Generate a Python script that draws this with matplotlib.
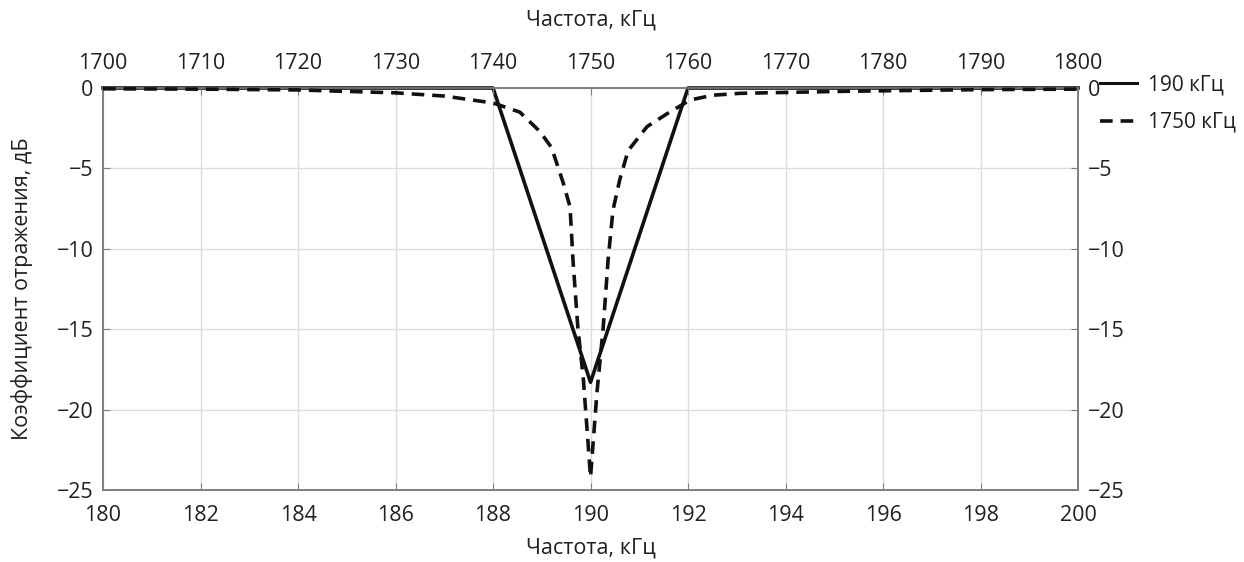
import matplotlib
matplotlib.use("Agg")
import matplotlib.pyplot as plt
from matplotlib.lines import Line2D

plt.rcParams['font.family'] = ['Open Sans', 'DejaVu Sans']
plt.rcParams['font.size'] = 15.5

# Data
# Series 1: 190 kHz (bottom axis, kHz)
f190_x = [180, 188, 190, 192, 200]
f190_y = [0, 0, -18.3, 0, 0]
# Series 2: 1750 kHz (top axis, kHz)
f1750_x = [1700, 1710, 1720, 1730, 1735, 1740, 1742.75, 1744.8, 1746, 1747.2,
           1747.9, 1748.2, 1748.7, 1749.25, 1749.75, 1750, 1750.65, 1751.3,
           1751.8, 1752.3, 1753, 1753.85, 1755.8, 1757.85, 1760.2, 1762.5,
           1765.35, 1776.5, 1790, 1800]
f1750_y = [-0.05, -0.07, -0.12, -0.3, -0.5, -0.93, -1.5, -2.7, -3.7, -5.9,
           -7.4, -10.7, -14.9, -18.0, -22.1, -24.2, -19.0, -14.9,
           -10.7, -7.6, -5.7, -3.9, -2.4, -1.6, -0.75, -0.45,
           -0.33, -0.2, -0.1, -0.07]

bottom_ticks = list(range(180, 201, 2))
top_ticks = list(range(1700, 1801, 10))
y_ticks = [0, -5, -10, -15, -20, -25]
labels = ['190 кГц', '1750 кГц']
xlabel = 'Частота, кГц'
ylabel = 'Коэффициент отражения, дБ'

txt = '#231f20'
spine_c = '#7f7f7f'
grid_c = '#dcdcdc'

fig = plt.figure(figsize=(12.44, 5.62), dpi=100)
ax = fig.add_axes([0.0828, 0.1281, 0.8666 - 0.0828, 0.8434 - 0.1281])
ax.set_xlim(180, 200)
ax.set_ylim(-25, 0)
ax.set_xticks(bottom_ticks)
ax.set_yticks(y_ticks)
ax.set_yticklabels(['0', '\u22125', '\u221210', '\u221215', '\u221220', '\u221225'])
ax.grid(True, color=grid_c, linewidth=1.0)
ax.tick_params(direction='in', length=5, color=spine_c, labelcolor=txt,
               right=True, labelright=True)
ax.tick_params(axis='x', pad=11)
ax.tick_params(axis='y', pad=7)
ax.set_xlabel(xlabel, color=txt, labelpad=8)
ax.set_ylabel(ylabel, color=txt, labelpad=17)
for s in ax.spines.values():
    s.set_color(spine_c)
    s.set_linewidth(1.2)

ax2 = ax.twiny()
ax2.set_xlim(1700, 1800)
ax2.set_xticks(top_ticks)
ax2.tick_params(direction='in', length=5, color=spine_c, labelcolor=txt, pad=10)
ax2.set_xlabel(xlabel, color=txt, labelpad=20)
for s in ax2.spines.values():
    s.set_color(spine_c)
    s.set_linewidth(1.2)

ax.plot(f190_x, f190_y, color='#111111', linewidth=2.6, clip_on=False, zorder=5)
ax2.plot(f1750_x, f1750_y, color='#111111', linewidth=2.6, linestyle=(0, (3.5, 2.2)),
         clip_on=False, zorder=5)

handles = [Line2D([], [], color='#111111', linewidth=2.2),
           Line2D([], [], color='#111111', linewidth=2.6, linestyle=(0, (3.5, 2.2)))]
fig.legend(handles, labels, loc='upper left', bbox_to_anchor=(0.884, 0.867),
           frameon=False, handlelength=1.8, handletextpad=0.5, labelspacing=0.78,
           borderaxespad=0, borderpad=0, fontsize=15, labelcolor=txt)

fig.savefig('out.png', dpi=100)
